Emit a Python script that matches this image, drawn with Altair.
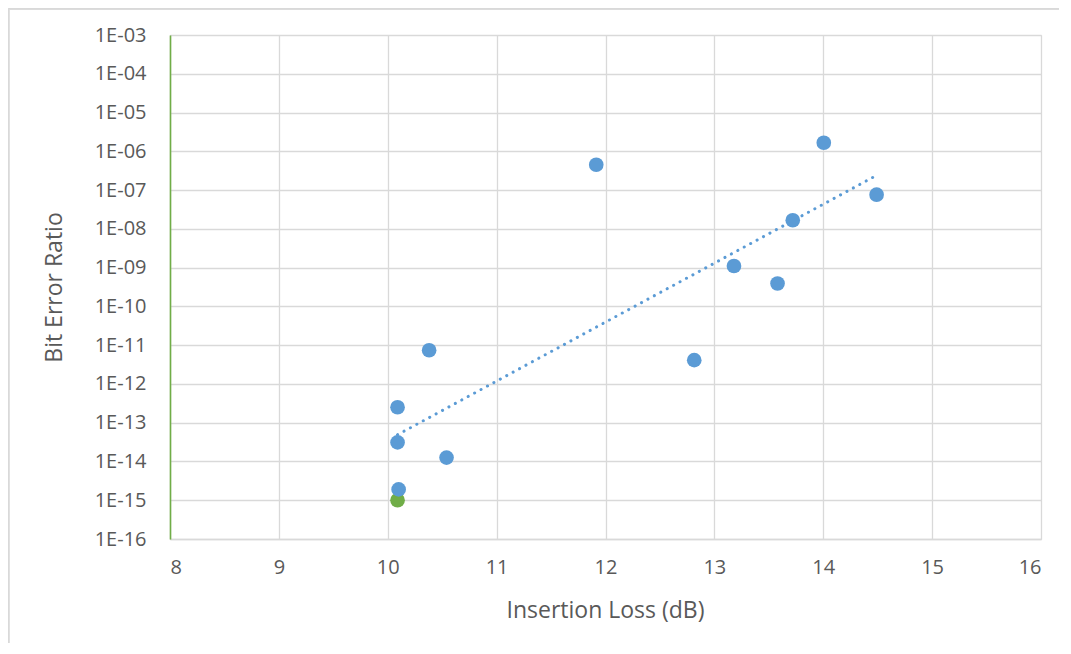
import altair as alt
import pandas as pd

# Blue series (measured links)
ber_x = [10.09, 10.09, 10.10, 10.38, 10.54, 11.915, 12.815, 13.18, 13.58, 13.72, 14.005, 14.49]
ber_y = [2.5e-13, 3.1e-14, 1.9e-15, 7.4e-12, 1.26e-14, 4.5e-7, 4.1e-12, 1.1e-9, 3.9e-10, 1.67e-8, 1.66e-6, 7.6e-8]
# Green series (single point)
ref_x = [10.09]
ref_y = [1e-15]
# Exponential trendline of the blue series (end points)
trend_x = [10.09, 14.465]
trend_y = [4.9e-14, 2.2e-7]

x_ticks = [8, 9, 10, 11, 12, 13, 14, 15, 16]
y_ticks = [1e-16, 1e-15, 1e-14, 1e-13, 1e-12, 1e-11, 1e-10, 1e-9, 1e-8, 1e-7, 1e-6, 1e-5, 1e-4, 1e-3]

BLUE = "#5B9BD5"
GREEN = "#70AD47"
GRID = "#D9D9D9"
TEXT = "#595959"
FONT = "Open Sans"

W, H = 871, 504

pts = pd.DataFrame({"x": ber_x, "y": ber_y})
ref = pd.DataFrame({"x": ref_x, "y": ref_y})
trend = pd.DataFrame({"x": trend_x, "y": trend_y})

label_expr = ("'1E-' + (round(-log(datum.value)/LN10) < 10 ? '0' : '') + "
              "round(-log(datum.value)/LN10)")

xs = alt.Scale(domain=[8, 16], nice=False, zero=False)
ys = alt.Scale(type="log", domain=[1e-16, 1e-3], nice=False)

x_axis = alt.Axis(values=x_ticks, format="d", title="Insertion Loss (dB)", grid=True, gridColor=GRID,
                  gridWidth=1.3, domainColor=GRID, domainWidth=1.3, ticks=False, tickSize=0,
                  labelFontSize=20, labelColor=TEXT, labelFont=FONT, labelPadding=18,
                  titleFontSize=23, titleFont=FONT, titleColor=TEXT, titleFontWeight="normal",
                  titleX=435, titleY=78, titleBaseline="alphabetic", titleAnchor="middle",
                  titleAlign="center")
y_axis = alt.Axis(values=y_ticks, labelExpr=label_expr, title="Bit Error Ratio", grid=True,
                  gridColor=GRID, gridWidth=1.3, domainColor=GREEN, domainWidth=1.6,
                  ticks=False, tickSize=0, labelFontSize=20, labelColor=TEXT, labelFont=FONT,
                  labelPadding=24, labelBaseline="middle",
                  titleFontSize=23, titleFont=FONT, titleColor=TEXT, titleFontWeight="normal",
                  titleX=-109, titleY=252, titleBaseline="alphabetic", titleAlign="center",
                  titleAngle=270)

green_layer = alt.Chart(ref).mark_circle(size=215, opacity=1, color=GREEN).encode(
    x=alt.X("x:Q", scale=xs, axis=x_axis),
    y=alt.Y("y:Q", scale=ys, axis=y_axis),
)
blue_layer = alt.Chart(pts).mark_circle(size=215, opacity=1, color=BLUE).encode(
    x=alt.X("x:Q", scale=xs),
    y=alt.Y("y:Q", scale=ys),
)
trend_layer = alt.Chart(trend).mark_line(color=BLUE, strokeWidth=3, strokeCap="round",
                                         strokeDash=[0.1, 7.2]).encode(
    x=alt.X("x:Q", scale=xs),
    y=alt.Y("y:Q", scale=ys),
)
# outer chart-area border (top and left edges)
border_top = alt.Chart(pts).mark_rule(color=GRID, strokeWidth=1.3).encode(
    x=alt.value(-161.5), x2=alt.value(W + 20), y=alt.value(-26.5))
border_left = alt.Chart(pts).mark_rule(color=GRID, strokeWidth=1.3).encode(
    x=alt.value(-161.5), y=alt.value(-26.5), y2=alt.value(H + 104))

chart = alt.layer(green_layer, blue_layer, trend_layer, border_top, border_left).properties(
    width=W, height=H,
    autosize=alt.AutoSizeParams(type="none"),
    padding={"left": 162, "top": 27, "right": 18, "bottom": 104},
).configure_view(stroke=None).configure(background="white")

chart.save("out.html", embed_options={"renderer": "svg", "actions": False})
